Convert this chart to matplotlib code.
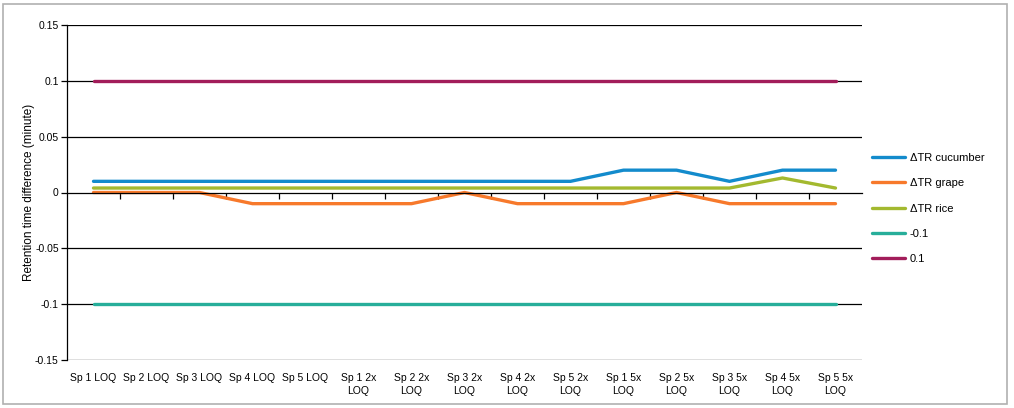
import numpy as np
import matplotlib.pyplot as plt
from matplotlib.patches import Rectangle

plt.rcParams['font.family'] = ['Liberation Sans', 'DejaVu Sans']

categories = ["Sp 1 LOQ", "Sp 2 LOQ", "Sp 3 LOQ", "Sp 4 LOQ", "Sp 5 LOQ",
              "Sp 1 2x\nLOQ", "Sp 2 2x\nLOQ", "Sp 3 2x\nLOQ", "Sp 4 2x\nLOQ", "Sp 5 2x\nLOQ",
              "Sp 1 5x\nLOQ", "Sp 2 5x\nLOQ", "Sp 3 5x\nLOQ", "Sp 4 5x\nLOQ", "Sp 5 5x\nLOQ"]
cucumber = [0.01, 0.01, 0.01, 0.01, 0.01, 0.01, 0.01, 0.01, 0.01, 0.01,
            0.02, 0.02, 0.01, 0.02, 0.02]
grape = [0, 0, 0, -0.01, -0.01, -0.01, -0.01, 0, -0.01, -0.01,
         -0.01, 0, -0.01, -0.01, -0.01]
rice = [0.004, 0.004, 0.004, 0.004, 0.004, 0.004, 0.004, 0.004, 0.004, 0.004,
        0.004, 0.004, 0.004, 0.013, 0.004]
lower = [-0.1] * 15
upper = [0.1] * 15

series = [
    ("\u0394TR cucumber", cucumber, "#138bcc"),
    ("\u0394TR grape", grape, "#f7792b"),
    ("\u0394TR rice", rice, "#a3b92f"),
    ("-0.1", lower, "#27ae9a"),
    ("0.1", upper, "#a21d5a"),
]

fig = plt.figure(figsize=(10.14, 4.08), dpi=100)
fig.patches.append(Rectangle((3 / 1014, 4 / 408), 1004 / 1014, 400 / 408,
                             transform=fig.transFigure, fill=False,
                             edgecolor="#b0b0b0", linewidth=1.2))
ax = fig.add_axes([67 / 1014, 48 / 408, 795 / 1014, 335 / 408])

x = np.arange(len(categories))
for name, vals, col in series:
    ax.plot(x, vals, color=col, linewidth=2.4, label=name, solid_capstyle="round")

ax.set_xlim(-0.5, len(categories) - 0.5)
ax.set_ylim(-0.15, 0.15)
ax.set_yticks([-0.15, -0.1, -0.05, 0, 0.05, 0.1, 0.15])
ax.set_yticklabels(["-0.15", "-0.1", "-0.05", "0", "0.05", "0.1", "0.15"])
for yv in [-0.15, -0.1, -0.05, 0.05, 0.1, 0.15]:
    ax.axhline(yv, color="black", linewidth=0.9, zorder=0)

for s in ["top", "right"]:
    ax.spines[s].set_visible(False)
ax.spines["bottom"].set_position(("data", 0))
ax.spines["bottom"].set_linewidth(0.9)
ax.spines["left"].set_linewidth(0.9)

ax.set_xticks(x)
ax.set_xticklabels([])
ax.tick_params(axis="x", which="major", length=0)
ax.set_xticks(np.arange(0.5, len(categories) - 0.5, 1), minor=True)
ax.tick_params(axis="x", which="minor", length=4, direction="out", width=0.9)
ax.tick_params(axis="y", length=4, width=0.9, labelsize=7.5, pad=2)

for xi, lab in zip(x, categories):
    ax.text(xi, -0.1615, lab, ha="center", va="top", fontsize=7.5,
            transform=ax.transData, linespacing=1.4)

ax.set_ylabel("Retention time difference (minute)", fontsize=8.5, labelpad=0)

ax.legend(loc="upper left", bbox_to_anchor=(1.0, 0.648), frameon=False,
          fontsize=8, handlelength=3.0, handletextpad=0.4, labelspacing=1.38)

fig.savefig("out.png", dpi=100)
